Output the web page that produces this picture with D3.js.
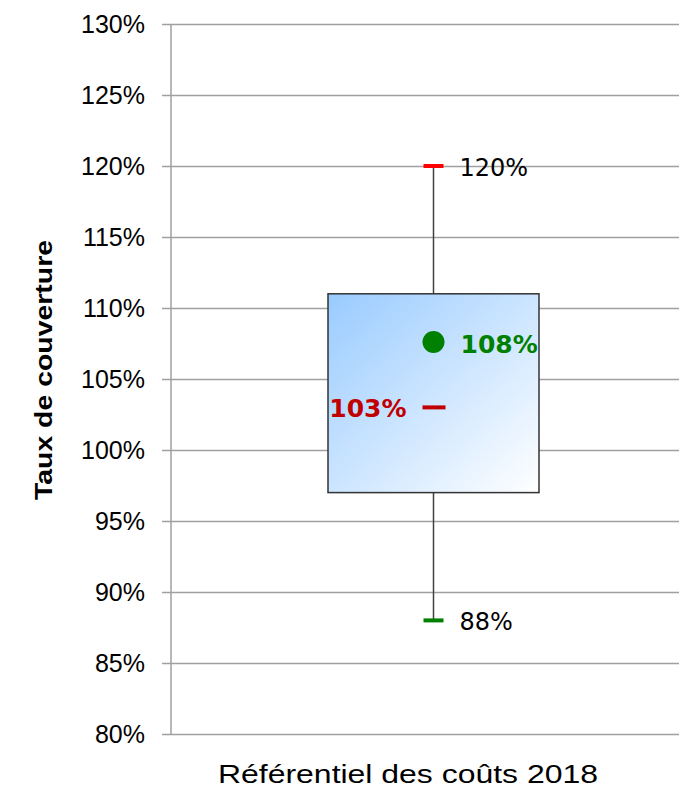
<!DOCTYPE html>
<html lang="fr">
  <head>
    <meta charset="utf-8" />
    <script src="https://d3js.org/d3.v7.min.js"></script>
    <style>
      body { margin: 0; background: #fff; }
      svg text { font-family: "Liberation Sans", Arial, sans-serif; }
    </style>
  </head>
  <body>
    <div id="chart"></div>
    <script>
      // data
      var categories = ["Référentiel des coûts 2018"];
      var q1 = [0.97], q3 = [1.11];
      var whiskerLow = [0.88], whiskerHigh = [1.2];
      var medians = [1.03], means = [1.076];
      var medianLabels = ["103%"], meanLabels = ["108%"];
      var lowLabels = ["88%"], highLabels = ["120%"];
      var yTicks = [0.8, 0.85, 0.9, 0.95, 1.0, 1.05, 1.1, 1.15, 1.2, 1.25, 1.3];

      var W = 679, H = 793;
      var svg = d3.select("#chart").append("svg").attr("width", W).attr("height", H);

      var y = d3.scaleLinear().domain([0.8, 1.3]).range([734, 24]);
      var x = d3.scaleBand().domain(categories).range([171, 696]);

      // gradient for the box
      var grad = svg.append("defs").append("linearGradient").attr("id", "boxgrad")
        .attr("x1", "0%").attr("y1", "0%").attr("x2", "100%").attr("y2", "100%");
      grad.append("stop").attr("offset", "0%").attr("stop-color", "#99cbff");
      grad.append("stop").attr("offset", "100%").attr("stop-color", "#ffffff");

      // gridlines + y axis
      var yAxis = svg.append("g").attr("transform", "translate(171,0)")
        .call(d3.axisLeft(y).tickValues(yTicks).tickFormat(d3.format(".0%"))
          .tickSize(9).tickPadding(17));
      yAxis.select(".domain").attr("stroke", "#a0a0a0").attr("stroke-width", 1.5)
        .attr("d", "M0," + y(1.3) + "V" + y(0.8));
      yAxis.selectAll(".tick line").attr("stroke", "#a0a0a0").attr("stroke-width", 1.5)
        .attr("x2", W - 171).attr("x1", -9);
      yAxis.selectAll(".tick text").attr("fill", "#000")
        .style("font-size", "25px").style("font-family", "'Liberation Sans', Arial, sans-serif");

      // axis titles
      svg.append("text")
        .attr("transform", "translate(52,370) rotate(-90)")
        .attr("text-anchor", "middle")
        .attr("textLength", 260).attr("lengthAdjust", "spacingAndGlyphs")
        .style("font-size", "23px").style("font-weight", "bold")
        .text("Taux de couverture");

      svg.append("text")
        .attr("x", 408).attr("y", 783)
        .attr("text-anchor", "middle")
        .attr("textLength", 380).attr("lengthAdjust", "spacingAndGlyphs")
        .style("font-size", "25.5px")
        .text(categories[0]);

      var boxW = 211;
      var lab = "'DejaVu Sans', Verdana, sans-serif";
      categories.forEach(function (c, i) {
        var cx = x(c) + x.bandwidth() / 2;
        var g = svg.append("g");

        // whiskers
        g.append("line").attr("x1", cx).attr("x2", cx)
          .attr("y1", y(whiskerHigh[i])).attr("y2", y(q3[i]))
          .attr("stroke", "#404040").attr("stroke-width", 1.5);
        g.append("line").attr("x1", cx).attr("x2", cx)
          .attr("y1", y(q1[i])).attr("y2", y(whiskerLow[i]))
          .attr("stroke", "#404040").attr("stroke-width", 1.5);

        // box
        g.append("rect")
          .attr("x", cx - boxW / 2).attr("width", boxW)
          .attr("y", y(q3[i])).attr("height", y(q1[i]) - y(q3[i]))
          .attr("fill", "url(#boxgrad)")
          .attr("stroke", "#333").attr("stroke-width", 1.5);

        // caps
        g.append("line").attr("x1", cx - 10).attr("x2", cx + 10)
          .attr("y1", y(whiskerHigh[i])).attr("y2", y(whiskerHigh[i]))
          .attr("stroke", "#ff0000").attr("stroke-width", 4);
        g.append("line").attr("x1", cx - 10).attr("x2", cx + 10)
          .attr("y1", y(whiskerLow[i])).attr("y2", y(whiskerLow[i]))
          .attr("stroke", "#008000").attr("stroke-width", 4);

        // median dash
        g.append("line").attr("x1", cx - 11).attr("x2", cx + 12)
          .attr("y1", y(medians[i])).attr("y2", y(medians[i]))
          .attr("stroke", "#c00000").attr("stroke-width", 4);

        // mean dot
        g.append("circle").attr("cx", cx).attr("cy", y(means[i])).attr("r", 11)
          .attr("fill", "#008000");

        // labels
        g.append("text").attr("x", cx + 26).attr("y", y(whiskerHigh[i]) + 1)
          .attr("dy", "0.36em").style("font-family", lab).style("font-size", "24px")
          .text(highLabels[i]);
        g.append("text").attr("x", cx + 26).attr("y", y(whiskerLow[i]) + 1)
          .attr("dy", "0.36em").style("font-family", lab).style("font-size", "24px")
          .text(lowLabels[i]);
        g.append("text").attr("x", cx + 27).attr("y", y(means[i]) + 2)
          .attr("dy", "0.36em").style("font-family", lab).style("font-size", "25px")
          .style("font-weight", "bold").attr("fill", "#008000")
          .text(meanLabels[i]);
        g.append("text").attr("x", cx - 27).attr("y", y(medians[i]) + 1)
          .attr("dy", "0.36em").attr("text-anchor", "end")
          .style("font-family", lab).style("font-size", "25px")
          .style("font-weight", "bold").attr("fill", "#c00000")
          .text(medianLabels[i]);
      });
    </script>
  </body>
</html>
